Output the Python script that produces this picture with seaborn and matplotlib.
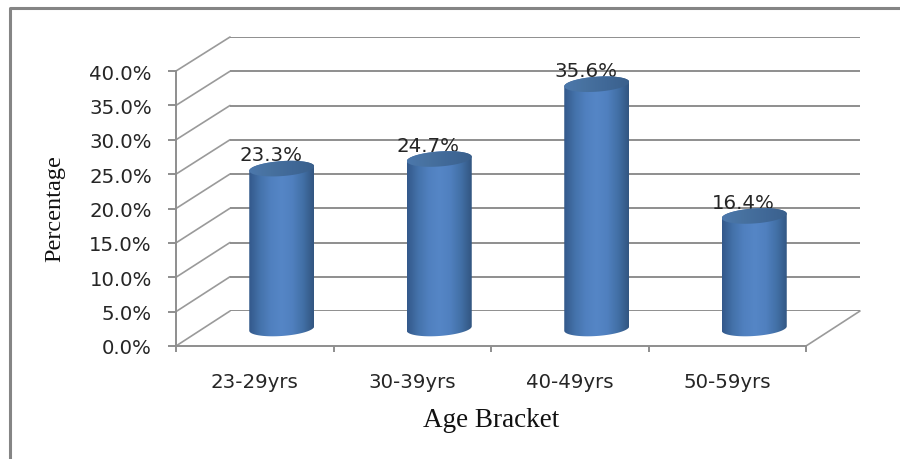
import numpy as np
import pandas as pd
import seaborn as sns
import matplotlib
matplotlib.use("Agg")
import matplotlib.pyplot as plt
from matplotlib.colors import LinearSegmentedColormap
from matplotlib.lines import Line2D
from matplotlib.patches import ConnectionPatch, PathPatch
from matplotlib.path import Path

categories = ["23-29yrs", "30-39yrs", "40-49yrs", "50-59yrs"]
percentages = [23.3, 24.7, 35.6, 16.4]
value_labels = ["23.3%", "24.7%", "35.6%", "16.4%"]
axis_ticks = [0, 5, 10, 15, 20, 25, 30, 35, 40]
axis_tick_labels = ["0.0%", "5.0%", "10.0%", "15.0%", "20.0%",
                    "25.0%", "30.0%", "35.0%", "40.0%"]

W, H = 900, 460
GRID = "#8e8e8e"
TEXT = "#262626"

sns.set_style("white")
fig = plt.figure(figsize=(W / 100, H / 100), dpi=100, facecolor="white")


def pixel_axes(left, top, right, bottom, z):
    ax = fig.add_axes([left / W, 1 - bottom / H, (right - left) / W, (bottom - top) / H])
    ax.set_zorder(z)
    ax.patch.set_alpha(0)
    return ax


# The 3D box is built from three parallel planes: rear wall, front axis plane,
# and the plane running through the cylinder centres.
back = pixel_axes(230, 38, 860, 312, 1)
front = pixel_axes(176, 72, 806, 347, 2)
mid = pixel_axes(203, 55, 833, 363.8, 3)

back.set_xlim(-0.5, 3.5)
back.set_ylim(0, 40)
back.set_xticks([])
back.set_yticks(axis_ticks)
back.set_yticklabels([])
back.tick_params(left=False)
back.grid(axis="y", color=GRID, lw=1.4)
sns.despine(ax=back, left=True, bottom=True)

front.set_xlim(-0.5, 3.5)
front.set_ylim(0, 40)
front.set_xticks(np.arange(-0.5, 4, 1), minor=False)
front.set_xticklabels([])
front.set_xticks(range(4), minor=True)
front.set_xticklabels(categories, minor=True)
front.set_yticks(axis_ticks)
front.set_yticklabels(axis_tick_labels)
front.tick_params(axis="y", which="major", length=5.8, width=1.4, color=GRID, pad=11.5,
                  labelsize=14.2, labelcolor=TEXT, left=True)
front.tick_params(axis="x", which="major", length=4.5, width=1.4, color=GRID, bottom=True)
front.tick_params(axis="x", which="minor", length=0, pad=18.5, labelsize=14.2, labelcolor=TEXT)
sns.despine(ax=front)
for side in ("left", "bottom"):
    front.spines[side].set_color(GRID)
    front.spines[side].set_linewidth(1.4)

front.set_xlabel("Age Bracket", family="Liberation Serif", fontsize=19.5,
                 color="#111111", va="center")
front.xaxis.set_label_coords(0.5, -(421 - 347) / 275)
front.set_ylabel("Percentage", family="Liberation Serif", fontsize=17.5,
                 color="#111111", va="center")
front.yaxis.set_label_coords((55 - 176) / 630, (347 - 209) / 275)

# Side wall and floor edges joining the front plane to the rear wall
for v in axis_ticks:
    fig.add_artist(ConnectionPatch((-0.5, v), (-0.5, v), coordsA=front.transData,
                                   coordsB=back.transData, color="#9a9a9a", lw=1.2))
fig.add_artist(ConnectionPatch((3.5, 0), (3.5, 0), coordsA=front.transData,
                               coordsB=back.transData, color="#9a9a9a", lw=1.2))

# Seaborn lays out the bars; each one is then rendered as a shaded cylinder
frame = pd.DataFrame({"age": categories, "pct": percentages})
sns.barplot(data=frame, x="age", y="pct", ax=mid, width=65 / 157.5, color="#4f81bd")
mid.set_xlim(-0.5, 3.5)
mid.set_ylim(-5, 40)
mid.axis("off")

body_cmap = LinearSegmentedColormap.from_list(
    "body", ["#33588a", "#4472aa", "#5080bf", "#5586c6", "#5080bf", "#4270a6", "#325580"])
cap_cmap = LinearSegmentedColormap.from_list(
    "cap", ["#4c78ac", "#47719f", "#406897", "#3a608c"])

px_x = 630 / 4
px_y = (363.8 - 55) / 45
semi_minor = 7.5 / px_y
skew = 2.2 / px_y
theta = np.linspace(0, 2 * np.pi, 121)


def ellipse(cx, cy, half_w, t):
    return np.column_stack([cx + half_w * np.cos(t),
                            cy + semi_minor * np.sin(t) + skew * np.cos(t)])


def shaded(verts, x0, x1, y0, y1, cmap, z):
    clip = PathPatch(Path(np.vstack([verts, verts[:1]])), fc="none", ec="none",
                     transform=mid.transData)
    mid.add_patch(clip)
    ramp = np.linspace(0, 1, 256).reshape(1, -1)
    im = mid.imshow(ramp, cmap=cmap, extent=[x0, x1, y0, y1], aspect="auto",
                    interpolation="bilinear", zorder=z)
    im.set_clip_path(clip)


for bar, label in zip(mid.patches[:4], value_labels):
    left, width, top = bar.get_x(), bar.get_width(), bar.get_height()
    cx, half = left + width / 2, width / 2
    bar.set_facecolor("none")
    bar.set_edgecolor("none")
    lower = ellipse(cx, 0, half, np.linspace(np.pi, 2 * np.pi, 61))
    upper = ellipse(cx, top, half, np.linspace(0, np.pi, 61))
    shaded(np.vstack([lower, upper]), left, left + width, -3, top + 3, body_cmap, 3)
    shaded(ellipse(cx, top, half, theta), left, left + width, top - 3, top + 3, cap_cmap, 4)
    mid.annotate(label, (cx, top), xytext=(-8, 10), textcoords="offset points",
                 ha="center", va="center", fontsize=14.2, color=TEXT, zorder=2)

mid.set_xlim(-0.5, 3.5)
mid.set_ylim(-5, 40)

# Chart frame: only the top and left edges are in view
fig.add_artist(Line2D([9.5 / W, 9.5 / W, 1], [0, 1 - 9 / H, 1 - 9 / H], color="#858585", lw=2.2))

fig.savefig("out.png", dpi=100)
